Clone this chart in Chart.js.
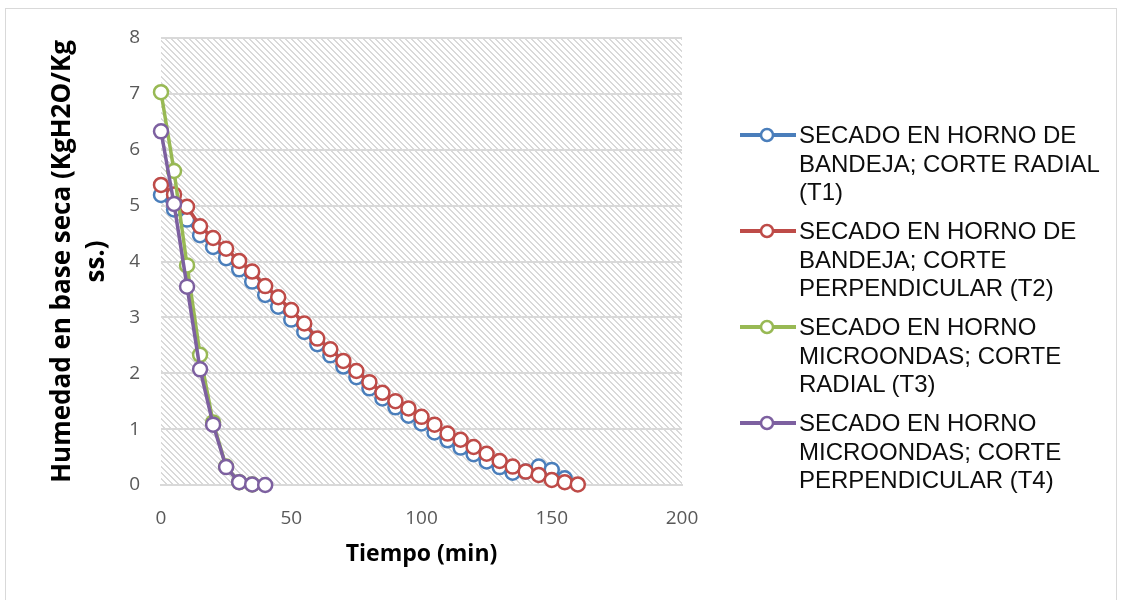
<!DOCTYPE html>
<html>
<head>
<meta charset="utf-8">
<script src="https://cdn.jsdelivr.net/npm/chart.js@4.4.1/dist/chart.umd.min.js"></script>
<style>
body { margin: 0; background: #fff; width: 1121px; height: 600px; overflow: hidden; position: relative; }
#frame { position: absolute; left: 5px; top: 8px; width: 1112px; height: 620px; border: 1px solid #d9d9d9; box-sizing: border-box; }
#myChart { position: absolute; left: 0; top: 0; }
.leg { position: absolute; left: 740px; font-family: "Liberation Sans", Arial, sans-serif; font-size: 24px; line-height: 28.5px; color: #0d0d0d; }
.leg svg { position: absolute; left: 0; top: 6px; }
.leg div { margin-left: 59px; white-space: nowrap; }
</style>
</head>
<body>
<div id="frame"></div>
<canvas id="myChart" width="1121" height="600"></canvas>
<div id="legend"></div>
<script>
// tiempo (min)
const tiempoT1 = [0,5,10,15,20,25,30,35,40,45,50,55,60,65,70,75,80,85,90,95,100,105,110,115,120,125,130,135,140,145,150,155];
const tiempoT2 = [0,5,10,15,20,25,30,35,40,45,50,55,60,65,70,75,80,85,90,95,100,105,110,115,120,125,130,135,140,145,150,155,160];
const tiempoT3 = [0,5,10,15,20,25,30,35];
const tiempoT4 = [0,5,10,15,20,25,30,35,40];

// humedad en base seca
const humedadT1 = [5.19,4.93,4.75,4.47,4.26,4.06,3.86,3.64,3.40,3.19,2.96,2.74,2.52,2.32,2.12,1.93,1.73,1.55,1.39,1.24,1.10,0.94,0.80,0.67,0.55,0.42,0.32,0.22,0.24,0.33,0.27,0.12];
const humedadT2 = [5.37,5.20,4.98,4.63,4.42,4.23,4.01,3.82,3.56,3.36,3.13,2.89,2.62,2.43,2.22,2.04,1.84,1.65,1.50,1.37,1.22,1.08,0.92,0.81,0.68,0.56,0.43,0.33,0.24,0.18,0.09,0.05,0.01];
const humedadT3 = [7.03,5.62,3.93,2.33,1.12,0.33,0.05,0.01];
const humedadT4 = [6.33,5.03,3.55,2.07,1.08,0.32,0.05,0.01,0.0];

const nombres = [
    ["SECADO EN HORNO DE", "BANDEJA; CORTE RADIAL", "(T1)"],
    ["SECADO EN HORNO DE", "BANDEJA; CORTE", "PERPENDICULAR (T2)"],
    ["SECADO EN HORNO", "MICROONDAS; CORTE", "RADIAL (T3)"],
    ["SECADO EN HORNO", "MICROONDAS; CORTE", "PERPENDICULAR (T4)"]
];
const colores = ["#4a7ebb", "#be4b48", "#98b954", "#7d60a0"];
const xTicks = [0, 50, 100, 150, 200];
const yTicks = [0, 1, 2, 3, 4, 5, 6, 7, 8];

const tiempos = [tiempoT1, tiempoT2, tiempoT3, tiempoT4];
const humedades = [humedadT1, humedadT2, humedadT3, humedadT4];

// patron de rayas diagonales del fondo
const tile = document.createElement("canvas");
tile.width = 6; tile.height = 6;
const tctx = tile.getContext("2d");
tctx.fillStyle = "#d9d9d9";
for (let i = 0; i < 6; i++) { tctx.fillRect(i, i, 1, 1); tctx.fillRect((i + 1) % 6, i, 1, 1); }

const fondo = {
    id: "fondo",
    beforeDraw(chart) {
        const a = chart.chartArea, ctx = chart.ctx;
        ctx.save();
        ctx.fillStyle = ctx.createPattern(tile, "repeat");
        ctx.fillRect(a.left, a.top, a.right - a.left, a.bottom - a.top);
        ctx.restore();
    }
};

const datasets = nombres.map((n, i) => ({
    label: n.join(" "),
    data: tiempos[i].map((t, j) => ({ x: t, y: humedades[i][j] })),
    borderColor: colores[i],
    backgroundColor: "#ffffff",
    pointBackgroundColor: "#ffffff",
    pointBorderColor: colores[i],
    pointRadius: 7,
    pointBorderWidth: 2.5,
    borderWidth: 3.5,
    clip: false,
    order: 4 - i
}));

const tickFont = { family: "Open Sans", size: 19 };
const titleFont = { family: "Open Sans", size: 26, weight: "bold", lineHeight: 1.3 };

new Chart(document.getElementById("myChart"), {
    type: "line",
    data: { datasets: datasets },
    options: {
        responsive: false,
        animation: false,
        layout: { padding: { left: 46, top: 38, right: 439, bottom: 34 } },
        plugins: { legend: { display: false }, tooltip: { enabled: false } },
        scales: {
            x: {
                type: "linear", min: 0, max: 200,
                afterBuildTicks: s => { s.ticks = xTicks.map(v => ({ value: v })); },
                ticks: { color: "#595959", font: { family: "Open Sans", size: 19, lineHeight: 1 }, padding: 24 },
                grid: { display: false, drawTicks: false },
                border: { color: "#d9d9d9", width: 2 },
                title: { display: true, text: "Tiempo (min)", color: "#000", font: { family: "Open Sans", size: 23, weight: "bold", lineHeight: 1 }, padding: { top: -9, bottom: 0 } }
            },
            y: {
                min: 0, max: 8,
                afterBuildTicks: s => { s.ticks = yTicks.map(v => ({ value: v })); },
                afterFit: s => { s.width = 161 - 46; },
                ticks: { color: "#595959", font: tickFont, padding: 21 },
                grid: { color: "#d9d9d9", lineWidth: 2, drawTicks: false },
                border: { display: false },
                title: { display: true, text: ["Humedad en base seca (KgH2O/Kg", "ss.)"], color: "#000", font: titleFont, padding: 0 }
            }
        }
    },
    plugins: [fondo]
});

// leyenda
const leg = document.getElementById("legend");
nombres.forEach((n, i) => {
    const el = document.createElement("div");
    el.className = "leg";
    el.style.top = (121 + i * 96) + "px";
    el.innerHTML = '<svg width="56" height="16"><line x1="0" y1="8" x2="56" y2="8" stroke="' + colores[i] +
        '" stroke-width="4"/><circle cx="27" cy="8" r="6" fill="#fff" stroke="' + colores[i] + '" stroke-width="2.5"/></svg>' +
        n.map(l => "<div>" + l + "</div>").join("");
    leg.appendChild(el);
});
</script>
</body>
</html>
